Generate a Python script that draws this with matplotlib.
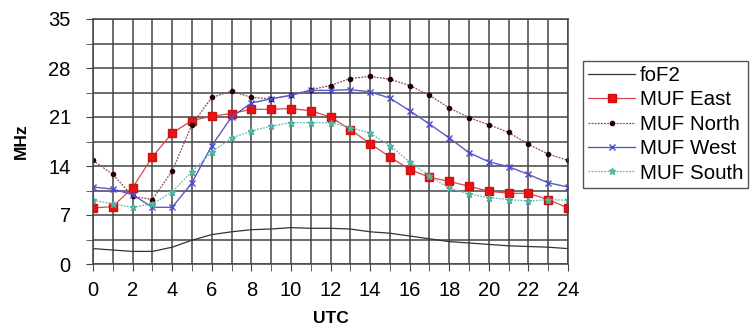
import matplotlib
matplotlib.use("Agg")
from matplotlib import pyplot
import matplotlib.ticker as ticker

pyplot.rcParams['font.family'] = ['Liberation Sans', 'DejaVu Sans']

# hours UTC
utc = list(range(0, 25))

fof2 = [2.2, 2.0, 1.8, 1.8, 2.4, 3.4, 4.2, 4.6, 4.9, 5.0, 5.2, 5.1, 5.1,
        5.0, 4.6, 4.4, 4.0, 3.6, 3.2, 3.0, 2.8, 2.6, 2.5, 2.4, 2.2]
muf_east = [8.0, 8.2, 10.9, 15.3, 18.7, 20.5, 21.1, 21.5, 22.1, 22.1, 22.2, 21.9, 21.0,
            19.2, 17.2, 15.3, 13.5, 12.4, 11.8, 11.1, 10.4, 10.1, 10.1, 9.2, 8.0]
muf_north = [14.8, 12.8, 9.7, 9.2, 13.3, 19.9, 23.8, 24.7, 23.8, 23.6, 24.1, 24.9, 25.5,
             26.5, 26.8, 26.4, 25.5, 24.1, 22.3, 20.9, 19.9, 18.8, 17.1, 15.7, 14.8]
muf_west = [11.0, 10.7, 9.9, 8.1, 8.1, 11.6, 16.9, 21.0, 23.0, 23.6, 24.1, 24.8, 24.8,
            24.9, 24.6, 23.7, 21.9, 20.0, 18.0, 15.9, 14.6, 13.9, 12.8, 11.6, 11.0]
muf_south = [9.1, 8.6, 8.1, 8.6, 10.3, 13.2, 16.0, 18.0, 19.0, 19.7, 20.2, 20.2, 20.2,
             19.5, 18.7, 16.9, 14.6, 12.6, 10.8, 10.0, 9.5, 9.2, 9.0, 9.2, 9.1]

fig = pyplot.figure(figsize=(7.52, 3.26), dpi=100)
ax = fig.add_axes([93 / 752, 1 - 264 / 326, (568 - 93) / 752, (264 - 19) / 326])

ax.plot(utc, fof2, c='#333333', linewidth=0.9, label='foF2')
ax.plot(utc, muf_east, c='#d84848', linewidth=0.9, marker='s', markersize=6,
        markerfacecolor='#ee1111', markeredgecolor='#cc1111', label='MUF East')
ax.plot(utc, muf_north, c='#8a4a5c', linewidth=0.9, linestyle=(0, (1.5, 1)), marker='o',
        markersize=3, markerfacecolor='#220000', markeredgecolor='#220000', label='MUF North')
ax.plot(utc, muf_west, c='#5a5ac8', linewidth=1.0, marker='x', markersize=5,
        markeredgecolor='#4a4ad0', label='MUF West')
ax.plot(utc, muf_south, c='#5cc0b0', linewidth=0.9, linestyle=(0, (1.5, 1)), marker='*',
        markersize=5, markerfacecolor='#70c8b8', markeredgecolor='#50b0a0', label='MUF South')

ax.set_xlim(0, 24)
ax.set_ylim(0, 35)
ax.xaxis.set_major_locator(ticker.MultipleLocator(2))
ax.xaxis.set_minor_locator(ticker.MultipleLocator(1))
ax.yaxis.set_major_locator(ticker.MultipleLocator(7))
ax.yaxis.set_minor_locator(ticker.MultipleLocator(3.5))

ax.grid(which='major', color='#444444', linewidth=1.1)
ax.grid(which='minor', color='#444444', linewidth=1.1)
ax.set_axisbelow(True)
for s in ax.spines.values():
    s.set_color('#444444')
    s.set_linewidth(1.1)

ax.tick_params(axis='x', which='major', labelsize=14.5, length=5, color='#444444', pad=7)
ax.tick_params(axis='y', which='major', labelsize=14.5, length=5, color='#444444', pad=11)
ax.tick_params(axis='both', which='minor', length=5, color='#444444')

ax.set_ylabel('MHz', fontsize=12.5, fontweight='bold', labelpad=14)
ax.set_xlabel('UTC', fontsize=12.5, fontweight='bold', labelpad=8)

leg = ax.legend(loc='upper left', bbox_to_anchor=(583 / 752, 1 - 61 / 326), bbox_transform=fig.transFigure,
                fontsize=14.8, fancybox=False, framealpha=1, edgecolor='#555555',
                borderpad=0.25, labelspacing=0.26, handlelength=2.3, handletextpad=0.2,
                borderaxespad=0)
leg.get_frame().set_linewidth(1.0)

fig.savefig('out.png')
